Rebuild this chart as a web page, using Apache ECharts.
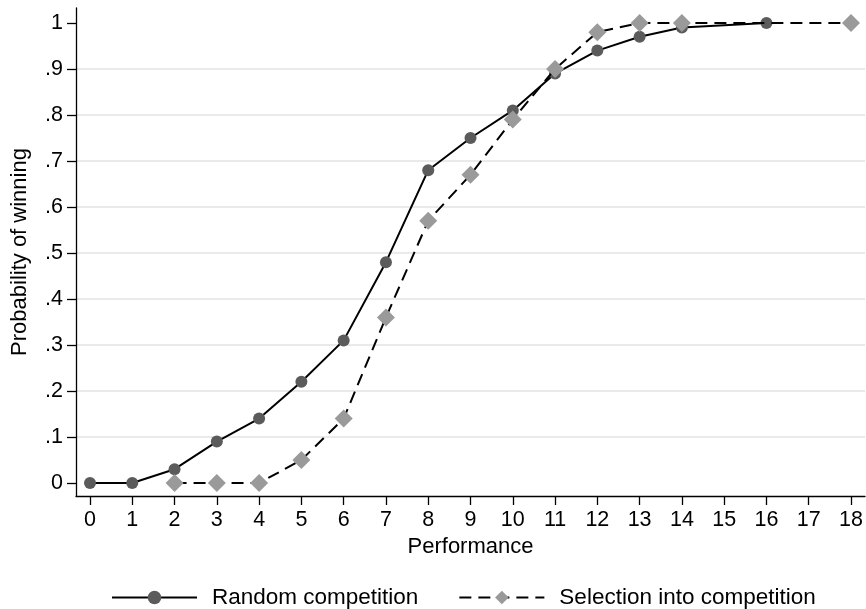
<!DOCTYPE html>
<html>
<head>
<meta charset="utf-8">
<script src="https://cdn.jsdelivr.net/npm/echarts@6/dist/echarts.min.js"></script>
<style>
html,body{margin:0;padding:0;background:#fff;}
#chart{width:866px;height:609px;}
</style>
</head>
<body>
<div id="chart"></div>
<script>
// ---- data ----
const randomX = [0, 1, 2, 3, 4, 5, 6, 7, 8, 9, 10, 11, 12, 13, 14, 16];
const randomY = [0, 0, 0.03, 0.09, 0.14, 0.22, 0.31, 0.48, 0.68, 0.75, 0.81, 0.89, 0.94, 0.97, 0.99, 1.0];
const selectionX = [2, 3, 4, 5, 6, 7, 8, 9, 10, 11, 12, 13, 14, 18];
const selectionY = [0, 0, 0, 0.05, 0.14, 0.36, 0.57, 0.67, 0.79, 0.90, 0.98, 1.0, 1.0, 1.0];
const xTicks = [0, 1, 2, 3, 4, 5, 6, 7, 8, 9, 10, 11, 12, 13, 14, 15, 16, 17, 18];
const yTicks = [0, 0.1, 0.2, 0.3, 0.4, 0.5, 0.6, 0.7, 0.8, 0.9, 1];
const seriesNames = ['Random competition', 'Selection into competition'];

const FONT = '"Liberation Sans", Arial, Helvetica, sans-serif';
const chart = echarts.init(document.getElementById('chart'), null, {renderer: 'canvas'});

function pairs(xs, ys) { return xs.map((x, i) => [x, ys[i]]); }

const option = {
  animation: false,
  backgroundColor: '#ffffff',
  textStyle: {fontFamily: FONT, color: '#000'},
  grid: {left: 76, right: 1, top: 8, bottom: 113, containLabel: false},
  xAxis: {
    type: 'value',
    min: -0.331, max: 18.331,
    name: 'Performance',
    nameLocation: 'middle',
    nameGap: 40,
    nameTextStyle: {fontFamily: FONT, fontSize: 22, color: '#000'},
    axisLine: {show: true, onZero: false, lineStyle: {color: '#000', width: 1.3}},
    axisTick: {show: true, length: 9, customValues: xTicks, lineStyle: {color: '#000', width: 1.3}},
    axisLabel: {customValues: xTicks, margin: 13, fontFamily: FONT, fontSize: 21.5, color: '#000'},
    splitLine: {show: false}
  },
  yAxis: {
    type: 'value',
    min: -0.0283, max: 1.0326,
    splitNumber: 10,
    name: 'Probability of winning',
    nameLocation: 'middle',
    nameGap: 45,
    nameTextStyle: {fontFamily: FONT, fontSize: 22, color: '#000'},
    axisLine: {show: true, onZero: false, lineStyle: {color: '#000', width: 1.3}},
    axisTick: {show: true, length: 9, customValues: yTicks, lineStyle: {color: '#000', width: 1.3}},
    axisLabel: {
      customValues: yTicks, margin: 13, fontFamily: FONT, fontSize: 21.5, color: '#000',
      formatter: function (v) {
        const r = Math.round(v * 10);
        if (r === 0) return '0';
        if (r === 10) return '1';
        return '.' + r;
      }
    },
    splitLine: {show: true, showMinLine: false, showMaxLine: false, lineStyle: {color: '#e3e3e3', width: 1.6}}
  },
  legend: {
    top: 581,
    left: 106,
    itemWidth: 85,
    itemHeight: 17,
    itemGap: 40,
    textStyle: {fontFamily: FONT, fontSize: 22.5, color: '#000', padding: [0, 0, 0, 10]},
    data: seriesNames
  },
  series: [
    {
      name: seriesNames[0],
      type: 'line',
      data: pairs(randomX, randomY),
      symbol: 'circle',
      symbolSize: 12,
      showAllSymbol: true,
      lineStyle: {color: '#000', width: 2},
      itemStyle: {color: '#5b5b5b', borderWidth: 0},
      z: 2
    },
    {
      name: seriesNames[1],
      type: 'line',
      data: pairs(selectionX, selectionY),
      symbol: 'diamond',
      symbolSize: 18,
      showAllSymbol: true,
      lineStyle: {color: '#000', width: 2, type: [12, 7]},
      itemStyle: {color: '#9a9a9a', borderWidth: 0},
      z: 3
    }
  ]
};
chart.setOption(option);
</script>
</body>
</html>
